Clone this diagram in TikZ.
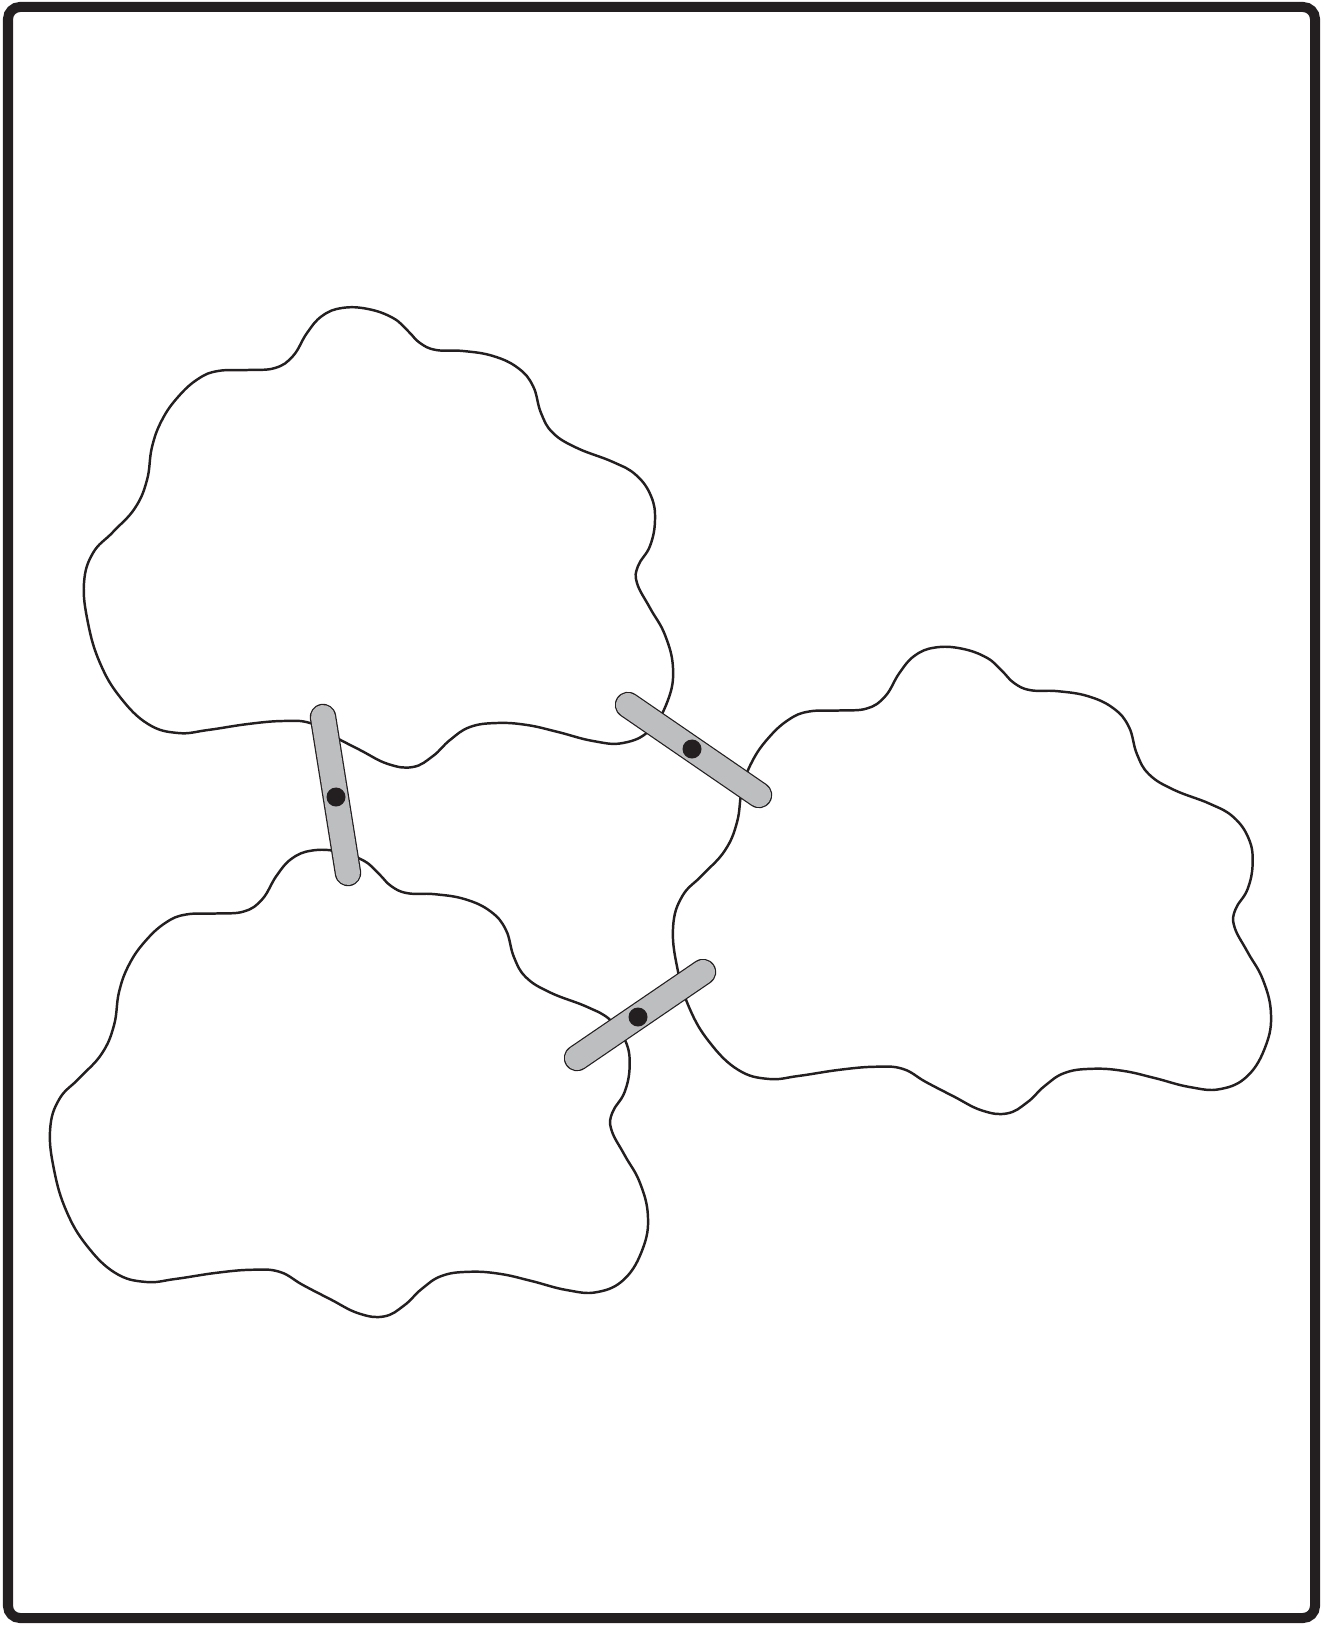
\documentclass[tikz,border=0pt]{standalone}
\usepackage{tikz}
\usepackage{xcolor}
\definecolor{inkblack}{RGB}{35,31,32}
\definecolor{barfill}{RGB}{188,190,192}
\tikzset{
  every picture/.style={x=0.01cm, y=-0.01cm},
  frame/.style={draw=inkblack, line width=0.1cm, rounded corners=0.12cm},
  blob/.style={draw=inkblack, line width=0.7pt},
  rod/.style={draw=inkblack, line width=0.35pt, double=barfill,
    double distance=0.24cm, line cap=round},
  pin/.style={fill=inkblack},
}
% outline of one blob, about its centre
\newcommand{\blobcurve}{plot[smooth cycle, tension=0.7] coordinates {
  (-265,-6)(-243,-30)(-231,-58)(-226,-91)(-216,-118)(-200,-141)(-180,-159)
  (-160,-167)(-130,-168)(-103,-170)(-85,-182)(-71,-205)(-56,-222)(-36,-230)
  (-10,-229)(15,-220)(30,-207)(42,-195)(58,-188)(85,-187)(115,-182)
  (140,-170)(155,-152)(163,-125)(175,-105)(199,-90)(235,-76)(258,-63)
  (273,-42)(277,-18)(272,8)(260,28)(259,45)(272,70)(287,97)(295,130)
  (290,162)(272,192)(245,205)(215,203)(180,194)(149,187)(119,185)(92,189)
  (72,202)(55,218)(35,229)(10,226)(-18,212)(-45,198)(-68,185)(-95,183)
  (-130,186)(-170,192)(-200,195)(-230,186)(-258,159)(-278,125)(-290,85)
  (-294,45)(-285,15)}}

\begin{document}
\begin{tikzpicture}

\useasboundingbox (0,0) rectangle (1323,1625);

%% Frame
\draw[frame] (8,7) rectangle (1315,1618);

%% Blob top left
\begin{scope}[shift={(378,538)}]
  \draw[blob] \blobcurve;
\end{scope}

%% Blob bottom left
\begin{scope}[shift={(348.5,1084)}, scale=1.015]
  \draw[blob] \blobcurve;
\end{scope}

%% Blob right
\begin{scope}[shift={(971.5,881)}, scale=1.015]
  \draw[blob] \blobcurve;
\end{scope}

%% Rods
\coordinate (rodA1) at (323,717);
\coordinate (rodA2) at (348,873);
\coordinate (pinA) at (336,797);
\draw[rod] (rodA1) -- (rodA2);
\fill[pin] (pinA) circle[radius=0.095cm];

\coordinate (rodB1) at (628,705);
\coordinate (rodB2) at (759,795);
\coordinate (pinB) at (692,749);
\draw[rod] (rodB1) -- (rodB2);
\fill[pin] (pinB) circle[radius=0.095cm];

\coordinate (rodC1) at (703,972);
\coordinate (rodC2) at (577,1058);
\coordinate (pinC) at (638,1017);
\draw[rod] (rodC1) -- (rodC2);
\fill[pin] (pinC) circle[radius=0.095cm];

\end{tikzpicture}
\end{document}
